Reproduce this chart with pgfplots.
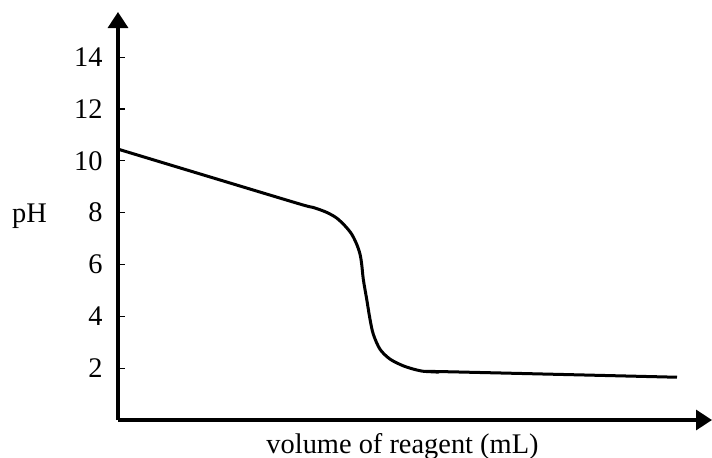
\documentclass[border=0pt]{standalone}
\usepackage{pgfplots}
\pgfplotsset{compat=1.18}
\usepackage{fontspec}
\setmainfont{Liberation Serif}
\usetikzlibrary{arrows.meta}

\begin{document}
\fontsize{14.2}{17}\selectfont
\begin{tikzpicture}
\begin{axis}[
    scale only axis,
    width=297pt, height=204pt,
    xmin=0, xmax=59.4,
    ymin=0, ymax=15.74,
    axis lines=left,
    axis line style={line width=1.6pt, -{Triangle[length=8pt,width=10pt]}},
    xtick=\empty,
    ytick={2,4,...,14},
    tick align=inside,
    major tick length=3.5pt,
    tick style={line width=0.6pt, black},
    yticklabel style={xshift=-2.8pt},
    /pgf/number format/assume math mode=true,
    clip=false,
]
% pH vs volume of reagent (x in arbitrary units)
\addplot [black, line width=1.5pt, smooth, tension=0.5] coordinates {
    (0, 10.45)
    (9.0, 9.40)
    (18.2, 8.33)
    (19.53, 8.20)
    (20.87, 8.01)
    (21.87, 7.79)
    (22.7, 7.49)
    (23.37, 7.17)
    (23.87, 6.78)
    (24.2, 6.40)
    (24.37, 6.01)
    (24.53, 5.43)
    (24.87, 4.66)
    (25.2, 3.89)
    (25.53, 3.31)
    (26.2, 2.73)
    (27.2, 2.35)
    (28.53, 2.09)
    (29.87, 1.93)
    (30.87, 1.87)
    (33.2, 1.86)
    (55.9, 1.65)
};
\node [anchor=base, xshift=-44.25pt, yshift=-4.8pt] at (axis cs:0,8) {pH};
\node [anchor=base, yshift=-16.5pt] at (axis cs:28.45,0) {volume of reagent (mL)};
\end{axis}
\pgfresetboundingbox
\path[use as bounding box] (-59pt,-18.5pt) rectangle (297pt,210pt);
\end{tikzpicture}
\end{document}
